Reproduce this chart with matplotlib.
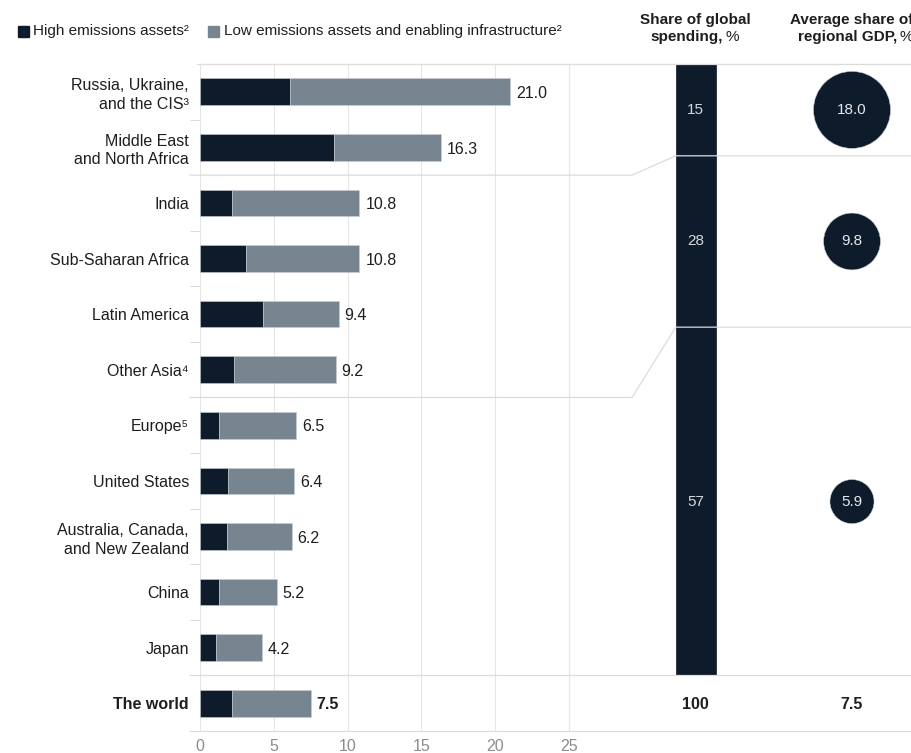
import numpy as np
import matplotlib
matplotlib.use('Agg')
import matplotlib.pyplot as plt
from matplotlib.patches import Rectangle
from matplotlib.lines import Line2D
from matplotlib.transforms import blended_transform_factory

plt.rcParams['font.family'] = ['Liberation Sans', 'DejaVu Sans']

# data
regions = ['Russia, Ukraine,\nand the CIS\u00b3', 'Middle East\nand North Africa', 'India',
           'Sub-Saharan Africa', 'Latin America', 'Other Asia\u2074', 'Europe\u2075',
           'United States', 'Australia, Canada,\nand New Zealand', 'China', 'Japan', 'The world']
total = [21.0, 16.3, 10.8, 10.8, 9.4, 9.2, 6.5, 6.4, 6.2, 5.2, 4.2, 7.5]
high = [6.1, 9.1, 2.2, 3.1, 4.3, 2.3, 1.3, 1.9, 1.8, 1.3, 1.1, 2.2]
low = [t - h for t, h in zip(total, high)]

share_global = [15, 28, 57]
share_gdp = [18.0, 9.8, 5.9]
world_share, world_gdp = 100, 7.5

dark = '#0d1b2b'
grey = '#778591'
line_c = '#dcdcdc'
txt = '#1e1e1e'

W, H = 912, 753
fig = plt.figure(figsize=(W / 100, H / 100), dpi=100)


def fx(px):
    return px / W


def fy(py):
    return 1 - py / H


# left bar chart
ax = fig.add_axes([fx(200), fy(731), fx(640) - fx(200), fy(64) - fy(731)])
ypos = np.arange(len(regions))
ax.barh(ypos, high, height=0.48, color=dark, edgecolor='#c9ced3', linewidth=0.4, zorder=3)
ax.barh(ypos, low, left=high, height=0.48, color=grey, edgecolor='#c9ced3', linewidth=0.4, zorder=3)
for i, t in enumerate(total):
    bold = i == len(total) - 1
    ax.text(t + 0.4, i + 0.03, f'{t:.1f}', va='center', ha='left', fontsize=11.5,
            color=txt, fontweight='bold' if bold else 'normal')

ax.set_xlim(0, 440 / 14.76)
ax.set_ylim(11.5, -0.5)
ax.set_xticks([0, 5, 10, 15, 20, 25])
ax.grid(axis='x', color='#e6e6e6', linewidth=0.8, zorder=0)
ax.tick_params(axis='x', length=0, pad=6, labelsize=11.5, labelcolor='#8c8c8c')
ax.set_yticks(ypos)
ax.set_yticklabels(regions, fontsize=11.5, color=txt, linespacing=1.3)
ax.get_yticklabels()[-1].set_fontweight('bold')
ax.tick_params(axis='y', which='major', length=0, pad=8)
ax.set_yticks([0.5, 2.5, 3.5, 4.5, 6.5, 7.5, 8.5, 9.5], minor=True)
ax.tick_params(axis='y', which='minor', length=7.5, width=0.8, color=line_c)
for s in ax.spines.values():
    s.set_visible(False)

# right panel: share of global spending and share of GDP
x0, x1 = 695.7, 852.0
unit = x1 - x0
axr = fig.add_axes([fx(640), fy(676), fx(912) - fx(640), fy(64) - fy(676)])
axr.set_xlim((640 - x0) / unit, (912 - x0) / unit)
axr.set_ylim(100, 0)
axr.axis('off')

bottoms = np.concatenate([[0], np.cumsum(share_global)[:-1]])
mids = bottoms + np.array(share_global) / 2
axr.bar(np.zeros(3), share_global, bottom=bottoms, width=40 / unit, color=dark,
        edgecolor=dark, linewidth=0.5, align='center')
for m, v in zip(mids, share_global):
    axr.text(0, m, str(v), ha='center', va='center', color='#d5d9de', fontsize=11)

axr.scatter(np.ones(3), mids, s=[171 * v for v in share_gdp], color=dark,
            edgecolors='#c9ced3', linewidths=0.4, clip_on=False, zorder=3)
for m, v in zip(mids, share_gdp):
    axr.text(1, m, f'{v:.1f}', ha='center', va='center', color='#e6e9ec', fontsize=11, zorder=4)

# world row values
tw = blended_transform_factory(axr.transData, ax.transData)
axr.text(0, 11.03, str(world_share), transform=tw, ha='center', va='center',
         fontsize=11.5, fontweight='bold', color=txt)
axr.text(1, 11.03, f'{world_gdp:.1f}', transform=tw, ha='center', va='center',
         fontsize=11.5, fontweight='bold', color=txt)

# separator lines
to_fig = fig.transFigure.inverted()


def ypix(axis, yval):
    return to_fig.transform(axis.transData.transform((0, yval)))[1]


def hline(y, xa, xb):
    fig.add_artist(Line2D([fx(xa), fx(xb)], [y, y], color=line_c, lw=0.9, zorder=1))


hline(ypix(ax, -0.5), 197, 912)
hline(ypix(ax, 10.5), 190, 912)
hline(ypix(ax, 11.5), 190, 912)
bar_left = x0 - 20
for row_b, sh in [(1.5, bottoms[1]), (5.5, bottoms[2])]:
    ya = ypix(ax, row_b)
    yb = ypix(axr, sh)
    fig.add_artist(Line2D([fx(190), fx(632), fx(bar_left), fx(912)], [ya, ya, yb, yb],
                          color=line_c, lw=0.9, zorder=5))

# headers
hdr = dict(fontsize=11, color=txt, va='center')
fig.text(fx(x0), fy(20), 'Share of global', ha='center', fontweight='bold', **hdr)
fig.text(fx(723), fy(37), 'spending,', ha='right', fontweight='bold', **hdr)
fig.text(fx(726), fy(37), '%', ha='left', **hdr)
fig.text(fx(x1), fy(20), 'Average share of', ha='center', fontweight='bold', **hdr)
fig.text(fx(897), fy(37), 'regional GDP,', ha='right', fontweight='bold', **hdr)
fig.text(fx(900), fy(37), '%', ha='left', **hdr)

# legend
fig.add_artist(Rectangle((fx(18), fy(37)), fx(11), 11 / H, color=dark))
fig.text(fx(33), fy(31), 'High emissions assets\u00b2', fontsize=11, color=txt, va='center')
fig.add_artist(Rectangle((fx(208), fy(37)), fx(11), 11 / H, color=grey))
fig.text(fx(224), fy(31), 'Low emissions assets and enabling infrastructure\u00b2',
         fontsize=11, color=txt, va='center')

fig.savefig('out.png', dpi=100)
